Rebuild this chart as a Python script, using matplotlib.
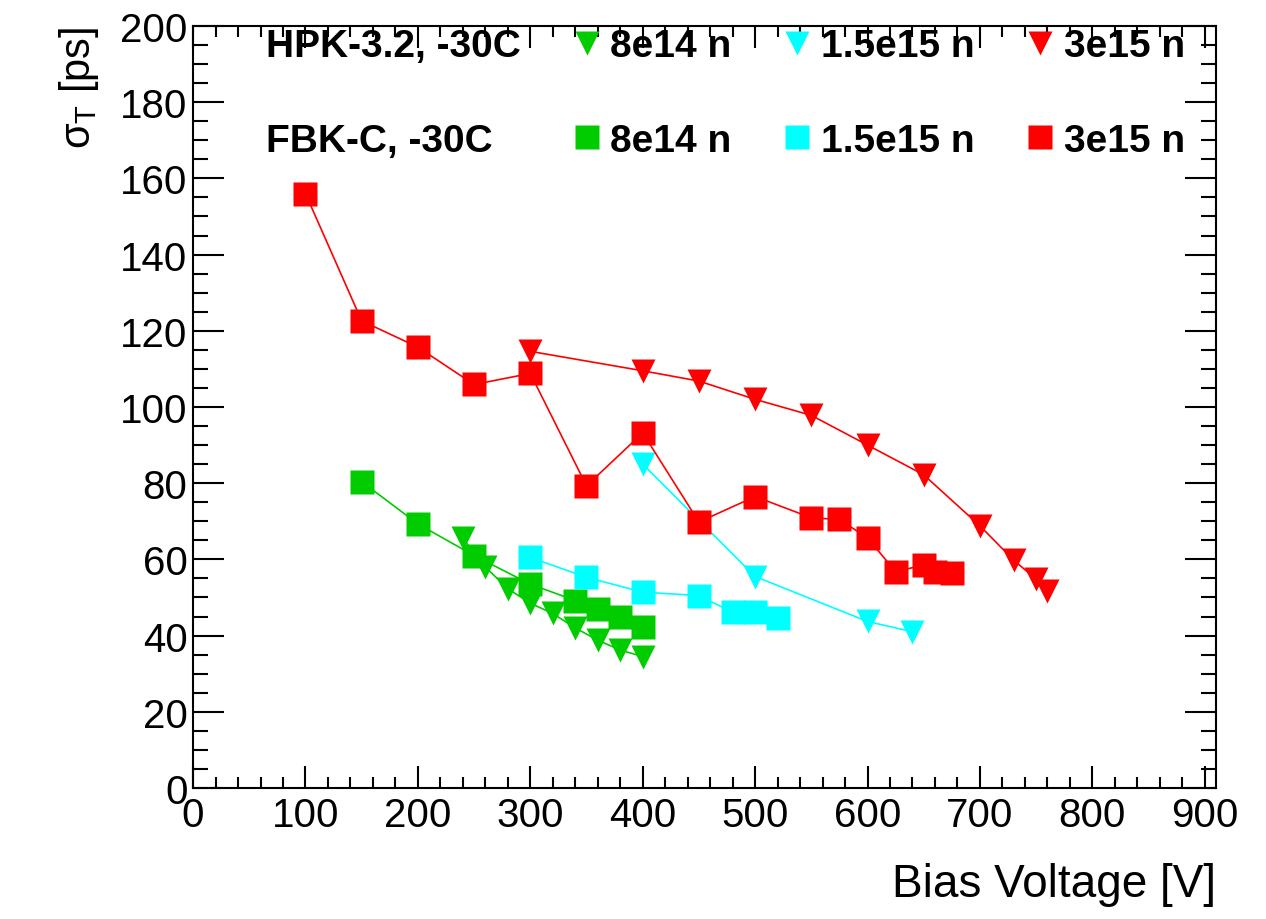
import matplotlib
matplotlib.use("Agg")
from matplotlib import pyplot as plt
from matplotlib.lines import Line2D
from matplotlib.ticker import MultipleLocator

plt.rcParams['font.family'] = ['Liberation Sans', 'DejaVu Sans']
plt.rcParams['mathtext.fontset'] = 'custom'
plt.rcParams['mathtext.rm'] = 'Liberation Sans'
plt.rcParams['mathtext.it'] = 'Liberation Sans'

# HPK-3.2 at -30C (triangles)
hpk_8e14_v = [240, 260, 280, 300, 320, 340, 360, 380, 400]
hpk_8e14_s = [65.5, 58.0, 52.3, 48.5, 45.8, 42.0, 38.8, 36.2, 34.5]
hpk_15e15_v = [400, 500, 600, 640]
hpk_15e15_s = [85.0, 55.5, 43.7, 41.0]
hpk_3e15_v = [300, 400, 450, 500, 550, 600, 650, 700, 730, 750, 760]
hpk_3e15_s = [114.6, 109.5, 106.8, 102.0, 97.8, 90.0, 82.2, 68.8, 59.8, 54.8, 51.8]

# FBK-C at -30C (squares)
fbk_8e14_v = [150, 200, 250, 300, 340, 360, 380, 400]
fbk_8e14_s = [80.4, 69.3, 61.0, 53.5, 49.2, 47.0, 44.8, 42.2]
fbk_15e15_v = [300, 350, 400, 450, 480, 500, 520]
fbk_15e15_s = [60.5, 55.3, 51.4, 50.5, 46.1, 46.1, 44.5]
fbk_3e15_v = [100, 150, 200, 250, 300, 350, 400, 450, 500, 550, 575, 600, 625, 650, 660, 675]
fbk_3e15_s = [156.0, 122.6, 115.7, 105.9, 108.8, 79.3, 93.2, 69.8, 76.5, 70.9, 70.5, 65.6, 56.8, 58.5, 56.8, 56.5]

green = '#00cc00'
cyan = '#00ffff'
red = '#ff0000'

fig = plt.figure(figsize=(12.66, 9.2), dpi=100)
ax = fig.add_axes([0.1525, 0.1424, 0.808, 0.8283])

ms = 17
lw = 1.2
series = [
    (hpk_8e14_v, hpk_8e14_s, green, 'v'),
    (fbk_8e14_v, fbk_8e14_s, green, 's'),
    (hpk_15e15_v, hpk_15e15_s, cyan, 'v'),
    (fbk_15e15_v, fbk_15e15_s, cyan, 's'),
    (hpk_3e15_v, hpk_3e15_s, red, 'v'),
    (fbk_3e15_v, fbk_3e15_s, red, 's'),
]
for v, s, c, m in series:
    ax.plot(v, s, color=c, lw=lw, marker=m, ms=ms, mec='none', mfc=c)

ax.set_xlim(0, 910)
ax.set_ylim(0, 200)
ax.xaxis.set_major_locator(MultipleLocator(100))
ax.xaxis.set_minor_locator(MultipleLocator(20))
ax.yaxis.set_major_locator(MultipleLocator(20))
ax.yaxis.set_minor_locator(MultipleLocator(5))
ax.tick_params(which='both', direction='in', top=True, right=True, width=1.5)
ax.tick_params(axis='x', which='major', length=16, labelsize=29, pad=6)
ax.tick_params(axis='x', which='minor', length=8)
ax.tick_params(axis='y', which='major', length=22, labelsize=29, pad=4)
ax.tick_params(axis='y', which='minor', length=11)
for sp in ax.spines.values():
    sp.set_linewidth(1.5)

ax.set_xlabel('Bias Voltage [V]', fontsize=33, loc='right', labelpad=20)
ax.set_ylabel(r'$\sigma_{T}$ [ps]', fontsize=30, loc='top', labelpad=14)

blank = Line2D([], [], linestyle='none', marker='none')
handles = [
    blank, blank,
    Line2D([], [], linestyle='none', marker='v', ms=ms, color=green, mec='none'),
    Line2D([], [], linestyle='none', marker='s', ms=ms, color=green, mec='none'),
    Line2D([], [], linestyle='none', marker='v', ms=ms, color=cyan, mec='none'),
    Line2D([], [], linestyle='none', marker='s', ms=ms, color=cyan, mec='none'),
    Line2D([], [], linestyle='none', marker='v', ms=ms, color=red, mec='none'),
    Line2D([], [], linestyle='none', marker='s', ms=ms, color=red, mec='none'),
]
labels = ['HPK-3.2, -30C', 'FBK-C, -30C',
          '8e14 n', '8e14 n',
          '1.5e15 n', '1.5e15 n',
          '3e15 n', '3e15 n']
leg = ax.legend(handles, labels, ncol=4, frameon=False, loc='upper left',
                bbox_to_anchor=(0.033, 0.997), prop={'weight': 'bold', 'size': 28},
                handlelength=0.8, handletextpad=0.2, columnspacing=1.3,
                labelspacing=1.5, borderpad=0, borderaxespad=0)

fig.savefig('out.png', dpi=100)
